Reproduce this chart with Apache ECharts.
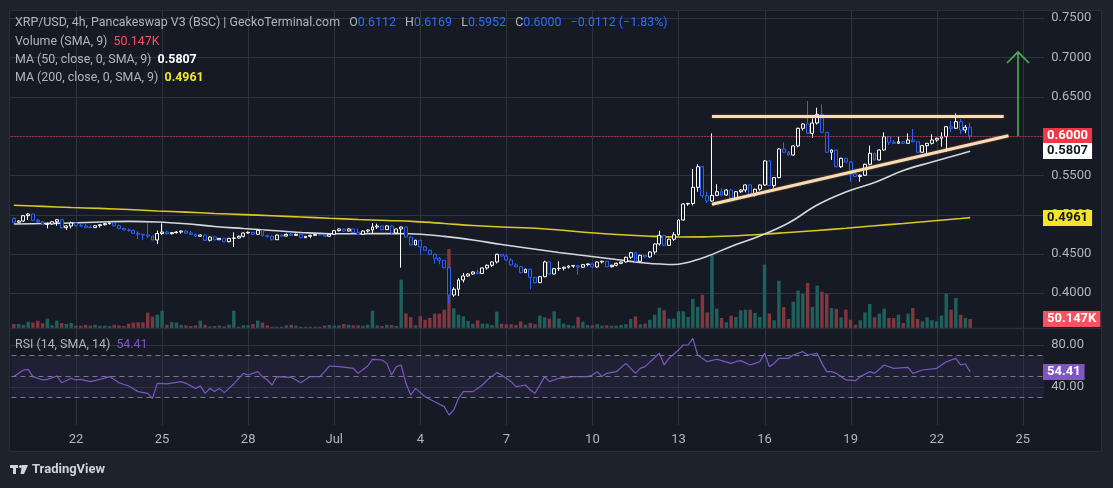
<!DOCTYPE html>
<html><head><meta charset="utf-8">
<script src="https://cdn.jsdelivr.net/npm/echarts@6/dist/echarts.min.js"></script>
<style>html,body{margin:0;padding:0;background:#1e222d;overflow:hidden}#c{width:1113px;height:488px}</style>
</head><body><div id="c"></div>
<script>
// ---------------- DATA ----------------
const startTimeUTC = Date.UTC(2024, 5, 19, 20); // first 4h candle
const slotHours = 4;
const slotCount = 216;
const firstOpen = 0.4953;
const closes = [
0.4902,0.4918,0.4986,0.5007,0.4927,0.4909,0.4876,0.4880,0.4909,0.4935,
0.4833,0.4855,0.4893,0.4858,0.4855,0.4838,0.4835,0.4858,0.4871,0.4884,
0.4893,0.4858,0.4825,0.4804,0.4800,0.4762,0.4749,0.4740,0.4727,0.4677,
0.4759,0.4778,0.4757,0.4770,0.4778,0.4791,0.4766,0.4749,0.4724,0.4740,
0.4673,0.4715,0.4680,0.4698,0.4655,0.4698,0.4702,0.4724,0.4766,0.4774,
0.4749,0.4800,0.4731,0.4724,0.4680,0.4740,0.4727,0.4749,0.4736,0.4749,
0.4706,0.4724,0.4736,0.4744,0.4740,0.4724,0.4749,0.4795,0.4817,0.4791,
0.4817,0.4774,0.4749,0.4791,0.4804,0.4842,0.4855,0.4808,0.4855,0.4766,
0.4817,0.4842,0.4715,0.4613,0.4673,0.4588,0.4546,0.4495,0.4444,0.4419,
0.4324,0.3977,0.4050,0.4168,0.4219,0.4244,0.4270,0.4251,0.4321,0.4355,
0.4397,0.4495,0.4473,0.4422,0.4359,0.4337,0.4261,0.4304,0.4202,0.4134,
0.4210,0.4397,0.4244,0.4312,0.4317,0.4330,0.4346,0.4350,0.4330,0.4363,
0.4372,0.4334,0.4397,0.4406,0.4337,0.4355,0.4380,0.4397,0.4457,0.4515,
0.4406,0.4482,0.4461,0.4524,0.4626,0.4736,0.4609,0.4686,0.4744,0.4931,
0.5135,0.5141,0.5347,0.5609,0.5240,0.5173,0.5245,0.5291,0.5249,0.5313,
0.5207,0.5291,0.5313,0.5377,0.5249,0.5322,0.5377,0.5682,0.5368,0.5470,
0.5835,0.5793,0.5758,0.5873,0.6098,0.6153,0.6034,0.6165,0.6276,0.6047,
0.5793,0.5822,0.5609,0.5716,0.5669,0.5517,0.5485,0.5500,0.5640,0.5780,
0.5695,0.5822,0.5991,0.5920,0.5907,0.5927,0.5907,0.5949,0.5927,0.5793,
0.5877,0.5907,0.5949,0.5971,0.5991,0.6118,0.6098,0.6182,0.6076,0.6112,
0.6000];
const highs = [
0.4963,0.4931,0.4995,0.5016,0.5007,0.4944,0.4918,0.4899,0.4918,0.4944,
0.4937,0.4861,0.4909,0.4899,0.4880,0.4880,0.4867,0.4867,0.4880,0.4893,
0.4899,0.4899,0.4874,0.4829,0.4823,0.4810,0.4785,0.4753,0.4889,0.4734,
0.4797,0.4887,0.4791,0.4778,0.4791,0.4797,0.4797,0.4791,0.4759,0.4747,
0.4747,0.4721,0.4721,0.4702,0.4702,0.4702,0.4774,0.4734,0.4772,0.4785,
0.4778,0.4813,0.4804,0.4747,0.4734,0.4747,0.4747,0.4759,0.4778,0.4759,
0.4759,0.4727,0.4744,0.4753,0.4749,0.4747,0.4757,0.4804,0.4825,0.4823,
0.4829,0.4817,0.4825,0.4797,0.4810,0.4893,0.4884,0.4855,0.4861,0.4867,
0.4823,0.4848,0.4846,0.4724,0.4680,0.4680,0.4601,0.4553,0.4502,0.4461,
0.4419,0.4337,0.4075,0.4190,0.4257,0.4253,0.4279,0.4302,0.4327,0.4363,
0.4403,0.4502,0.4499,0.4492,0.4448,0.4384,0.4346,0.4312,0.4312,0.4206,
0.4219,0.4413,0.4401,0.4321,0.4406,0.4337,0.4353,0.4359,0.4359,0.4372,
0.4378,0.4378,0.4403,0.4413,0.4410,0.4363,0.4388,0.4403,0.4465,0.4524,
0.4518,0.4490,0.4486,0.4530,0.4632,0.4795,0.4740,0.4693,0.4778,0.4940,
0.5144,0.5150,0.5580,0.5640,0.5618,0.5291,0.6034,0.5385,0.5335,0.5322,
0.5326,0.5300,0.5322,0.5385,0.5383,0.5330,0.5385,0.5691,0.5689,0.5478,
0.5844,0.5920,0.5809,0.5882,0.6106,0.6162,0.6445,0.6225,0.6360,0.6403,
0.6051,0.5828,0.5822,0.5724,0.5724,0.5682,0.5542,0.5513,0.5648,0.5877,
0.5784,0.5828,0.6047,0.5994,0.5949,0.5991,0.5936,0.6034,0.6089,0.5930,
0.5886,0.5911,0.6022,0.5978,0.6047,0.6127,0.6191,0.6289,0.6216,0.6140,
0.6169];
const lows = [
0.4893,0.4893,0.4906,0.4931,0.4918,0.4893,0.4867,0.4825,0.4874,0.4858,
0.4823,0.4804,0.4825,0.4848,0.4848,0.4825,0.4829,0.4829,0.4836,0.4861,
0.4874,0.4848,0.4816,0.4797,0.4782,0.4753,0.4690,0.4677,0.4702,0.4670,
0.4626,0.4740,0.4747,0.4747,0.4759,0.4759,0.4759,0.4740,0.4715,0.4715,
0.4664,0.4658,0.4670,0.4677,0.4648,0.4648,0.4588,0.4696,0.4709,0.4759,
0.4740,0.4747,0.4721,0.4706,0.4673,0.4677,0.4718,0.4721,0.4727,0.4731,
0.4698,0.4702,0.4698,0.4727,0.4731,0.4715,0.4718,0.4747,0.4785,0.4782,
0.4785,0.4766,0.4740,0.4747,0.4772,0.4762,0.4817,0.4800,0.4808,0.4749,
0.4766,0.4324,0.4706,0.4604,0.4613,0.4495,0.4537,0.4486,0.4375,0.4368,
0.4317,0.3872,0.3955,0.3964,0.4136,0.4206,0.4235,0.4240,0.4244,0.4299,
0.4333,0.4378,0.4464,0.4413,0.4350,0.4330,0.4253,0.4257,0.4049,0.4126,
0.4130,0.4202,0.4235,0.4240,0.4283,0.4289,0.4314,0.4324,0.4235,0.4324,
0.4342,0.4324,0.4324,0.4378,0.4330,0.4327,0.4342,0.4368,0.4390,0.4435,
0.4397,0.4401,0.4452,0.4452,0.4492,0.4604,0.4601,0.4604,0.4664,0.4734,
0.4925,0.5113,0.5116,0.5291,0.5211,0.5144,0.5164,0.5233,0.5228,0.5240,
0.5198,0.5198,0.5275,0.5284,0.5240,0.5228,0.5304,0.5368,0.5360,0.5342,
0.5462,0.5784,0.5749,0.5749,0.5856,0.6070,0.6025,0.5978,0.6146,0.6038,
0.5784,0.5695,0.5602,0.5593,0.5660,0.5419,0.5478,0.5419,0.5491,0.5625,
0.5686,0.5689,0.5809,0.5886,0.5898,0.5902,0.5898,0.5905,0.5920,0.5784,
0.5788,0.5758,0.5892,0.5927,0.5864,0.5800,0.6047,0.6089,0.6022,0.6034,
0.5952];
const volumesK = [
22,22,18,35,30,41,26,52,15,41,
28,22,28,13,13,18,13,18,13,13,
11,18,15,11,24,30,32,32,85,63,
74,96,18,33,30,17,15,11,15,41,
18,9,11,13,9,18,96,7,15,15,
22,41,30,15,7,7,7,15,18,13,
7,7,7,7,7,13,17,13,15,22,
18,15,15,13,18,96,15,11,18,17,
11,269,81,61,15,66,46,56,80,80,
102,440,110,74,65,39,24,43,24,24,
17,91,24,21,21,17,37,18,28,21,
69,60,52,93,52,24,17,13,61,35,
17,15,21,13,15,13,13,17,21,50,
65,21,24,46,74,113,99,52,52,93,
93,61,162,117,185,87,408,108,56,32,
69,61,99,102,102,84,61,353,80,43,
263,117,50,146,208,191,251,117,236,202,
191,111,106,60,102,46,18,43,87,134,
60,80,108,56,56,74,28,80,111,50,
37,60,43,37,69,191,102,167,74,56,
50.147];
const maIndex = [0,6,12,18,24,30,36,42,48,54,60,66,72,78,84,90,96,102,108,114,120,126,132,138,144,150,156,162,168,174,180,186,192,198,200];
const ma50 = [0.4880,0.4886,0.4893,0.4906,0.4914,0.4906,0.4883,0.4849,0.4823,0.4798,0.4772,0.4757,0.4757,0.4759,0.4753,0.4723,0.4677,0.4619,0.4568,0.4518,0.4473,0.4428,0.4384,0.4365,0.4448,0.4595,0.4728,0.4893,0.5122,0.5288,0.5408,0.5561,0.5669,0.5771,0.5807];
const ma200 = [0.5119,0.5105,0.5090,0.5079,0.5064,0.5046,0.5031,0.5014,0.5000,0.4985,0.4969,0.4953,0.4938,0.4925,0.4911,0.4887,0.4861,0.4842,0.4829,0.4804,0.4772,0.4747,0.4728,0.4715,0.4717,0.4728,0.4747,0.4772,0.4798,0.4826,0.4857,0.4887,0.4919,0.4950,0.4961];
const rsiIndex = [0,2,3,4,6,7,9,10,12,13,14,16,18,20,22,24,26,28,29,30,32,35,36,38,39,40,41,42,43,44,46,48,49,51,52,53,54,55,58,60,62,64,65,66,68,71,72,74,75,77,78,79,80,81,82,83,84,86,88,90,91,92,93,94,96,98,99,101,102,104,105,107,108,109,111,112,114,117,120,121,122,123,124,126,128,130,131,132,135,136,137,139,140,141,142,143,145,147,148,150,151,152,154,155,156,157,158,159,160,162,163,165,166,168,169,170,171,172,174,176,177,179,180,182,184,187,188,190,193,194,195,197,198,199,200];
const rsiValues = [49.9,56.2,56.8,49.9,46.7,47.3,50.5,44.1,48.3,46.7,47.3,45.1,47.3,49.9,44.1,41.0,35.6,34.0,29.2,43.5,42.9,45.1,43.5,38.7,41.0,34.0,38.7,35.6,38.7,34.6,42.9,53.0,51.4,54.6,49.9,46.7,41.9,49.9,49.2,44.1,49.9,49.9,54.6,60.0,59.4,57.8,53.0,60.0,66.4,65.7,62.5,51.4,59.4,61.0,43.5,32.4,38.7,30.8,26.0,21.3,13.3,18.1,29.2,35.6,35.6,41.9,46.7,53.7,51.4,45.1,40.3,41.9,37.1,34.0,49.9,45.1,48.3,49.9,49.9,51.4,54.6,49.9,53.0,54.6,62.5,53.0,57.8,59.4,72.1,61.0,67.3,75.2,80.0,80.0,86.4,70.5,64.1,66.4,65.1,62.5,64.1,65.1,61.0,62.5,64.1,72.1,59.4,62.5,67.3,67.3,70.5,73.7,70.5,72.1,62.5,54.6,54.6,53.0,46.7,46.0,49.9,54.6,53.0,61.0,57.8,58.7,53.0,56.2,57.8,61.0,64.1,67.3,61.0,61.9,54.41];
const dateTicks = ['06-22','06-25','06-28','07-01','07-04','07-07','07-10','07-13','07-16','07-19','07-22','07-25'];
const dateTickLabels = ['22','25','28','Jul','4','7','10','13','16','19','22','25'];
const priceTicks = [0.40,0.45,0.50,0.55,0.60,0.65,0.70,0.75];
const rsiTicks = [40,80];
const rsiLevels = [70,50,30];
const resistance = {fromIdx:146, toIdx:207, price:0.6250};
const support = {fromIdx:146, fromPrice:0.5131, toIdx:208, toPrice:0.6004};
const target = {idx:210, fromPrice:0.6000, toPrice:0.7069};
const title = 'XRP/USD, 4h, Pancakeswap V3 (BSC) | GeckoTerminal.com';

// ---------------- BUILD ----------------
const pad = n => String(n).padStart(2,'0');
const cats = [];
for (let k = 0; k < slotCount; k++) {
  const d = new Date(startTimeUTC + k*slotHours*3600e3);
  cats.push(pad(d.getUTCMonth()+1)+'-'+pad(d.getUTCDate())+' '+pad(d.getUTCHours()));
}
const tickKeys = dateTicks.map(t => t+' 00');
const opens = closes.map((c,i) => i === 0 ? firstOpen : closes[i-1]);
const N = closes.length, L = N-1;
const candleData = closes.map((c,i) => [opens[i], c, lows[i], highs[i]]);
const UPV = '#1e605c', DNV = '#82363d';
const volData = volumesK.map((v,i) => ({value:v, itemStyle:{color: closes[i] >= opens[i] ? UPV : DNV}}));
const maLine = arr => maIndex.map((ix,k) => [ix, arr[k]]);
const rsiData = rsiIndex.map((ix,k) => [ix, rsiValues[k]]);

const BG = '#161a25', GRID = '#2f3341', TXT = '#b2b5be';
const FONT = 'Roboto, "Noto Sans", sans-serif';
const gl = 11.44, gr = 68.7;
const hidX = gi => ({type:'category', gridIndex:gi, data:cats, boundaryGap:true, show:false});

const chart = echarts.init(document.getElementById('c'), null, {renderer:'canvas'});
const option = {
  backgroundColor:'#1e222d',
  animation:false,
  textStyle:{fontFamily:FONT},
  grid:[
    {left:gl, right:gr, top:10, height:318},
    {left:gl, right:gr, top:240, height:88},
    {left:gl, right:gr, top:330, height:95}
  ],
  xAxis:[hidX(0), hidX(1), {
    type:'category', gridIndex:2, data:cats, boundaryGap:true,
    axisLine:{show:false}, axisTick:{show:false}, splitLine:{show:false},
    axisLabel:{color:TXT, fontSize:13, fontFamily:FONT, margin:8,
      interval:(i,v) => tickKeys.indexOf(v) >= 0,
      formatter:v => { const j = tickKeys.indexOf(v); return j >= 0 ? dateTickLabels[j] : ''; }}
  }],
  yAxis:[
    {type:'value', gridIndex:0, position:'right', min:0.3557, max:0.7603,
      axisLine:{show:false}, axisTick:{show:false}, splitLine:{show:false},
      axisLabel:{customValues:priceTicks, color:TXT, fontSize:13, fontFamily:FONT, margin:7, formatter:v => v.toFixed(4)}},
    {type:'value', gridIndex:1, min:0, max:490, show:false, splitLine:{show:false}},
    {type:'value', gridIndex:2, position:'right', min:3.8, max:94.3,
      axisLine:{show:false}, axisTick:{show:false}, splitLine:{show:false},
      axisLabel:{customValues:rsiTicks, color:TXT, fontSize:13, fontFamily:FONT, margin:7, formatter:v => v.toFixed(2)}}
  ],
  series:[
    {type:'bar', name:'Volume', xAxisIndex:1, yAxisIndex:1, data:volData, barWidth:'72%', z:1, silent:true},
    {type:'line', name:'MA200', xAxisIndex:0, yAxisIndex:0, data:maLine(ma200), smooth:0.4, showSymbol:false,
      lineStyle:{color:'#dcc823', width:1.6}, z:2, silent:true},
    {type:'line', name:'MA50', xAxisIndex:0, yAxisIndex:0, data:maLine(ma50), smooth:0.4, showSymbol:false,
      lineStyle:{color:'#d6d8de', width:1.6}, z:2, silent:true},
    {type:'candlestick', name:'XRP/USD', xAxisIndex:0, yAxisIndex:0, data:candleData, barWidth:3.4, z:3,
      itemStyle:{color:BG, color0:BG, borderColor:'#ffffff', borderColor0:'#2962ff', borderColorDoji:'#ffffff', borderWidth:1},
      markLine:{silent:true, symbol:['none','none'], label:{show:false}, animation:false,
        lineStyle:{color:'#f23645', width:1, type:[1,2]}, data:[{yAxis:closes[L]}]}},
    {type:'line', name:'Drawings', xAxisIndex:0, yAxisIndex:0, data:[], z:4, silent:true, showSymbol:false,
      markLine:{silent:true, symbol:['none','none'], label:{show:false}, animation:false,
        lineStyle:{color:'#f9dcb6', width:3, type:'solid', shadowColor:'rgba(255,170,80,0.5)', shadowBlur:2},
        data:[
          [{coord:[cats[resistance.fromIdx], resistance.price]}, {coord:[cats[resistance.toIdx], resistance.price]}],
          [{coord:[cats[support.fromIdx], support.fromPrice]}, {coord:[cats[support.toIdx], support.toPrice]}]
        ]}},
    {type:'line', name:'RSI', xAxisIndex:2, yAxisIndex:2, data:rsiData, showSymbol:false,
      lineStyle:{color:'#7e57c2', width:1.2}, z:3, silent:true,
      markArea:{silent:true, itemStyle:{color:'rgba(126,87,194,0.10)'}, data:[[{yAxis:rsiLevels[0]},{yAxis:rsiLevels[2]}]]},
      markLine:{silent:true, symbol:['none','none'], label:{show:false}, animation:false,
        lineStyle:{color:'#787b86', width:1, type:[5,4]},
        data:rsiLevels.map(v => ({yAxis:v}))}}
  ]
};
chart.setOption(option);

// ---------------- OVERLAY: GRID / TEXT / BADGES ----------------
const px = (yi, v) => chart.convertToPixel({yAxisIndex:yi}, v);
const f4 = v => v.toFixed(4);
const chg = closes[L] - closes[L-1];
const pct = chg / closes[L-1] * 100;
const sgn = v => (v < 0 ? '\u2212' : '+');
const badge = (text, yi, v, bg, fg) => ({type:'text', x:1043, y:Math.round(px(yi, v)), z:100,
  style:{text:text, fill:fg, font:'bold 13px '+FONT, backgroundColor:bg, padding:[2,4,1,4], verticalAlign:'middle', align:'left'}});
const base = chart.convertToPixel({xAxisIndex:0, yAxisIndex:0}, [cats[target.idx], target.fromPrice]);
const tip = chart.convertToPixel({xAxisIndex:0, yAxisIndex:0}, [cats[target.idx], target.toPrice]);
const AG = '#4caf50';
const lastVol = volumesK[L];
const HF = '12.4px '+FONT;
const rich = {g:{fill:TXT, font:HF}, b:{fill:'#2f6bff', font:HF},
  r:{fill:'#f7525f', font:HF}, w:{fill:'#ffffff', font:'bold '+HF},
  y:{fill:'#f2e52a', font:'bold '+HF}, p:{fill:'#7e57c2', font:HF}};

const X0 = 10, X1 = Math.round(1113 - gr);
const gridEls = [];
tickKeys.forEach(k => {
  const x = Math.round(chart.convertToPixel({xAxisIndex:0}, k)) + 0.5;
  gridEls.push({type:'line', z:1, silent:true, shape:{x1:x, y1:11, x2:x, y2:328}, style:{stroke:GRID, lineWidth:1}});
  gridEls.push({type:'line', z:1, silent:true, shape:{x1:x, y1:329, x2:x, y2:425}, style:{stroke:GRID, lineWidth:1}});
});
priceTicks.forEach(v => {
  const y = Math.round(px(0, v)) + 0.5;
  gridEls.push({type:'line', z:1, silent:true, shape:{x1:X0, y1:y, x2:X1, y2:y}, style:{stroke:GRID, lineWidth:1}});
});
rsiTicks.forEach(v => {
  const y = Math.round(px(2, v)) + 0.5;
  gridEls.push({type:'line', z:1, silent:true, shape:{x1:X0, y1:y, x2:X1, y2:y}, style:{stroke:GRID, lineWidth:1}});
});

chart.setOption({graphic:[
  {type:'rect', z:-10, shape:{x:9.5, y:10.5, width:1092, height:441}, style:{fill:BG, stroke:'#2a2e39', lineWidth:1}},
  {type:'line', z:50, shape:{x1:9.5, y1:328.5, x2:1101.5, y2:328.5}, style:{stroke:'#2a2e39', lineWidth:1.5}}
].concat(gridEls).concat([
  {type:'text', x:15, y:23, z:60, style:{rich:rich, verticalAlign:'middle',
    text:'{g|'+title+'   O}{b|'+f4(opens[L])+'}{g|   H}{b|'+f4(highs[L])+'}{g|   L}{b|'+f4(lows[L])+'}{g|   C}{b|'+f4(closes[L])+
      '   '+sgn(chg)+Math.abs(chg).toFixed(4)+' ('+sgn(chg)+Math.abs(pct).toFixed(2)+'%)}'}},
  {type:'text', x:15, y:41.5, z:60, style:{rich:rich, verticalAlign:'middle', text:'{g|Volume (SMA, 9)  }{r|'+lastVol.toFixed(3)+'K}'}},
  {type:'text', x:15, y:60, z:60, style:{rich:rich, verticalAlign:'middle', text:'{g|MA (50, close, 0, SMA, 9)  }{w|'+f4(ma50[ma50.length-1])+'}'}},
  {type:'text', x:15, y:77.5, z:60, style:{rich:rich, verticalAlign:'middle', text:'{g|MA (200, close, 0, SMA, 9)  }{y|'+f4(ma200[ma200.length-1])+'}'}},
  {type:'text', x:15, y:344.5, z:60, style:{rich:rich, verticalAlign:'middle', text:'{g|RSI (14, SMA, 14)  }{p|'+rsiValues[rsiValues.length-1].toFixed(2)+'}'}},
  {type:'polyline', z:40, shape:{points:[[base[0], base[1]], [tip[0], tip[1]]]}, style:{stroke:AG, lineWidth:1.6, fill:null}},
  {type:'polyline', z:40, shape:{points:[[tip[0]-11, tip[1]+11], [tip[0], tip[1]], [tip[0]+11, tip[1]+11]]}, style:{stroke:AG, lineWidth:1.6, fill:null}},
  badge(f4(closes[L]), 0, closes[L], '#f23645', '#ffffff'),
  badge(f4(ma50[ma50.length-1]), 0, ma50[ma50.length-1], '#ffffff', '#131722'),
  badge(f4(ma200[ma200.length-1]), 0, ma200[ma200.length-1], '#f5e52a', '#131722'),
  badge(lastVol.toFixed(3)+'K', 1, lastVol, '#f7525f', '#ffffff'),
  badge(rsiValues[rsiValues.length-1].toFixed(2), 2, rsiValues[rsiValues.length-1], '#7e57c2', '#ffffff'),
  // TradingView logo
  {type:'rect', z:60, shape:{x:10, y:465, width:8, height:3}, style:{fill:'#d1d4dc'}},
  {type:'rect', z:60, shape:{x:13, y:465, width:3, height:9}, style:{fill:'#d1d4dc'}},
  {type:'circle', z:60, shape:{cx:20.5, cy:466.5, r:1.6}, style:{fill:'#d1d4dc'}},
  {type:'polygon', z:60, shape:{points:[[22,465],[28,465],[24,474],[20.5,474]]}, style:{fill:'#d1d4dc'}},
  {type:'text', x:32, y:470, z:60, style:{text:'TradingView', fill:'#d1d4dc', font:'bold 13px '+FONT, verticalAlign:'middle'}}
])});
</script>
</body></html>
